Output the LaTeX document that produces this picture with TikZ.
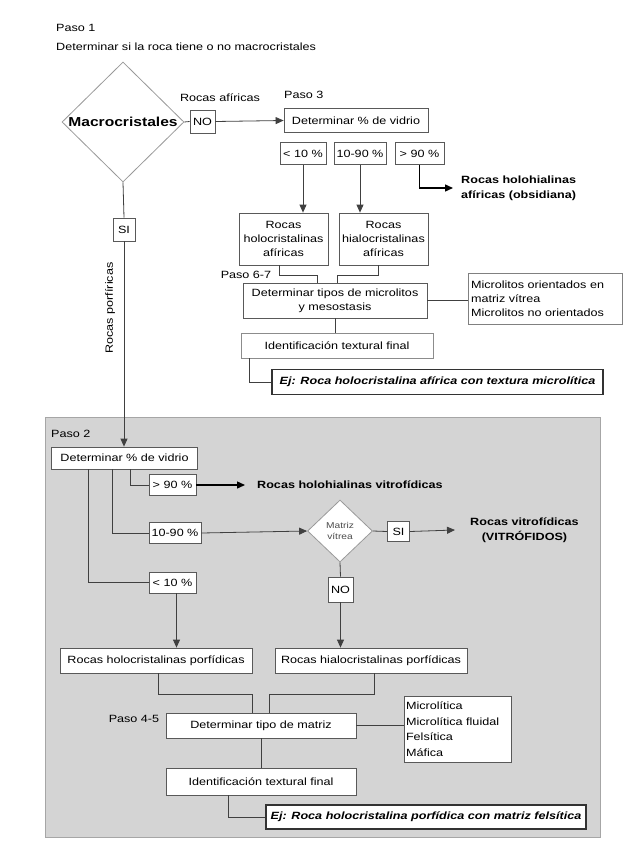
\documentclass[tikz,border=0pt]{standalone}
\usepackage{fontspec}
\setmainfont{Liberation Sans}[FakeStretch=1.2]
\usetikzlibrary{shapes.geometric,arrows.meta,calc}
\begin{document}
\begin{tikzpicture}[x=1pt,y=-1pt,
  every node/.style={font=\fontsize{10.5}{14}\selectfont, inner sep=0pt},
  box/.style={draw=black!65, fill=white, line width=0.8pt, align=center},
  ln/.style={draw=black!75, line width=0.8pt},
  arr/.style={ln, -{Triangle[length=8pt,width=7pt]}},
  tarr/.style={draw=black, line width=1.4pt, -{Triangle[length=8pt,width=7pt]}},
  dia/.style={diamond, draw=black!40, fill=white, line width=0.8pt, align=center, inner sep=0pt},
  res/.style={font=\fontsize{10.5}{15}\selectfont\bfseries, align=center},
  ej/.style={box, line width=1.2pt, draw=black!80, font=\fontsize{10.5}{14}\selectfont\bfseries\itshape},
  panel/.style={fill=black!17, draw=black!35, line width=0.8pt}
]
\useasboundingbox (0,0) rectangle (636,848);
\fill[white] (0,0) rectangle (636,848);

% ---------- panel (Paso 2) ----------
\draw[panel] (45,417) rectangle (600,837);

% ---------- Paso 1 ----------
\node[anchor=west] (paso1) at (56,28) {Paso 1};
\node[anchor=west] (tit) at (56,47) {Determinar si la roca tiene o no macrocristales};
\node[dia, minimum width=122pt, minimum height=120pt, font=\fontsize{13}{15}\selectfont\bfseries] (macro) at (123,122) {Macrocristales};

\node[box, minimum width=25pt, minimum height=23pt] (noA) at (202.5,121.5) {NO};
\node (afr) at (220,98) {Rocas afíricas};
\node[anchor=west] (paso3) at (284,95) {Paso 3};
\node[box, minimum width=144pt, minimum height=24pt] (det3) at (356,120.5) {Determinar \% de vidrio};
\draw[ln] (macro.east) -- (noA.west);
\draw[arr] (noA.east) -- (det3.west);

\node[box, minimum width=46pt, minimum height=22pt] (pa) at (303,153.5) {< 10 \%};
\node[box, minimum width=52pt, minimum height=22pt] (pb) at (360,153.5) {10-90 \%};
\node[box, minimum width=49pt, minimum height=22pt] (pc) at (419.5,153.5) {> 90 \%};

\node[res, anchor=west, align=left] (obs) at (461,188) {Rocas holohialinas\\afíricas (obsidiana)};
\draw[tarr] (pc.south) |- ([xshift=-8pt]obs.west);

\node[box, minimum width=89pt, minimum height=52pt] (holoA) at (283.5,239) {Rocas\\holocristalinas\\afíricas};
\node[box, minimum width=89pt, minimum height=52pt] (hialoA) at (383.5,239) {Rocas\\hialocristalinas\\afíricas};
\draw[arr] (pa.south) -- (pa.south |- holoA.north);
\draw[arr] (pb.south) -- (pb.south |- hialoA.north);

\node (paso67) at (246,275) {Paso 6-7};
\node[box, minimum width=184pt, minimum height=35pt] (detT) at (335,300.5) {Determinar tipos de microlitos\\y mesostasis};
\draw[ln] ([xshift=-4.5pt]holoA.south) -- ++(0,10) -| ([xshift=-18pt]detT.north);
\draw[ln] ([xshift=-5.5pt]hialoA.south) -- ++(0,10) -| ([xshift=2pt]detT.north);

\node[box, draw=black!50, minimum width=154pt, minimum height=51pt, align=left, text width=148pt] (micro) at (545,299) {Microlitos orientados en\\matriz vítrea\\Microlitos no orientados};
\draw[ln] (detT.east) -- (detT.east -| micro.west);

\node[box, draw=black!45, minimum width=192pt, minimum height=25pt] (identA) at (337,345.5) {Identificación textural final};
\draw[ln] (detT.south) -- (detT.south |- identA.north);

\node[ej, minimum width=331pt, minimum height=25pt] (ejA) at (437.5,382) {Ej: Roca holocristalina afírica con textura microlítica};
\draw[ln] ([xshift=-88pt]identA.south) |- (ejA.west);

% ---------- left branch ----------
\node[box, minimum width=22pt, minimum height=23pt] (siA) at (124,229.5) {SI};
\draw[ln] (macro.south) -- (siA.north);
\node[rotate=90] (porf) at (110,308) {Rocas porfíricas};

% ---------- Paso 2 ----------
\node[anchor=west] (paso2) at (51,434) {Paso 2};
\node[box, minimum width=146pt, minimum height=22pt] (det2) at (124.5,458) {Determinar \% de vidrio};
\draw[arr] (siA.south) -- (siA.south |- det2.north);

\node[box, minimum width=47pt, minimum height=21pt] (qc) at (172.5,485) {> 90 \%};
\node[box, minimum width=52pt, minimum height=21pt] (qb) at (175,533) {10-90 \%};
\node[box, minimum width=47pt, minimum height=21pt] (qa) at (172.5,582.5) {< 10 \%};
\draw[ln] ([xshift=5.5pt]det2.south) |- (qc.west);
\draw[ln] ([xshift=-12.5pt]det2.south) |- (qb.west);
\draw[ln] ([xshift=-36.5pt]det2.south) |- (qa.west);

\node[res, anchor=west] (hv) at (257,485) {Rocas holohialinas vitrofídicas};
\draw[tarr] (qc.east) -- ([xshift=-12pt]hv.west);

\node[dia, minimum width=65pt, minimum height=62pt, font=\fontsize{8.5}{11}\selectfont, text=black!70] (matriz) at (340,531) {Matriz\\vítrea};
\draw[arr] (qb.east) -- (matriz.west);
\node[box, minimum width=22pt, minimum height=20pt] (siB) at (398.5,531.5) {SI};
\draw[ln] (matriz.east) -- (siB.west);
\node[res, anchor=west] (vit) at (470,530) {Rocas vitrofídicas\\(VITRÓFIDOS)};
\draw[arr] (siB.east) -- ([xshift=-15pt]vit.west);

\node[box, minimum width=25pt, minimum height=25pt] (noB) at (340.5,589.5) {NO};
\draw[ln] (matriz.south) -- (noB.north);

\node[box, minimum width=192pt, minimum height=25pt] (holoB) at (156,660.5) {Rocas holocristalinas porfídicas};
\node[box, minimum width=192pt, minimum height=25pt] (hialoB) at (371,660.5) {Rocas hialocristalinas porfídicas};
\draw[arr] ([xshift=4pt]qa.south) -- ([xshift=4pt]qa.south |- holoB.north);
\draw[arr] (noB.south) -- (noB.south |- hialoB.north);

\node[box, minimum width=190pt, minimum height=25pt] (detM) at (261,725.5) {Determinar tipo de matriz};
\node (paso45) at (134,719) {Paso 4-5};
\draw[ln] ([xshift=2pt]holoB.south) -- ++(0,21) -| ([xshift=-9pt]detM.north);
\draw[ln] ([xshift=3pt]hialoB.south) -- ++(0,21) -| ([xshift=8pt]detM.north);

\node[box, minimum width=107pt, minimum height=66pt, align=left, text width=103pt, font=\fontsize{10.5}{15.5}\selectfont] (lista) at (457.5,729) {Microlítica\\Microlítica fluidal\\Felsítica\\Máfica};
\draw[ln] (detM.east) -- (detM.east -| lista.west);

\node[box, minimum width=190pt, minimum height=27pt] (identB) at (261,781.5) {Identificación textural final};
\draw[ln] (detM.south) -- (identB.north);

\node[ej, minimum width=320pt, minimum height=24pt] (ejB) at (426,817) {Ej: Roca holocristalina porfídica con matriz felsítica};
\draw[ln] ([xshift=-33pt]identB.south) |- (ejB.west);
\end{tikzpicture}
\end{document}
